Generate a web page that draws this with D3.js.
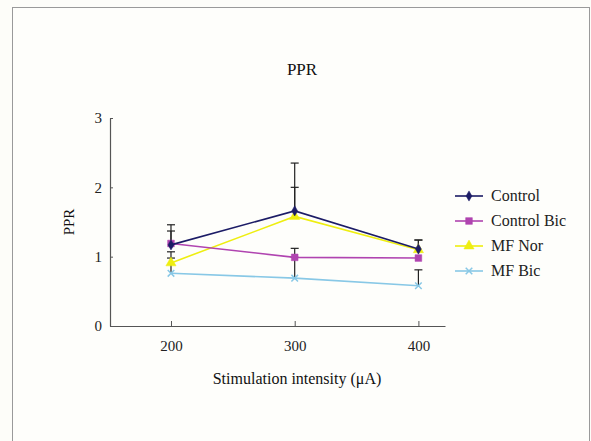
<!DOCTYPE html>
<html>
<head>
<meta charset="utf-8">
<script src="https://cdn.jsdelivr.net/npm/d3@7"></script>
<style>
  html, body { margin: 0; padding: 0; background: #fdfdf9; }
  svg { display: block; }
</style>
</head>
<body>
<div id="chart"></div>
<script>
// data
const intensities = [200, 300, 400];
const seriesNames = ['Control', 'Control Bic', 'MF Nor', 'MF Bic'];
const controlVals = [1.17, 1.66, 1.11];
const controlBicVals = [1.19, 0.99, 0.98];
const mfNorVals = [0.91, 1.58, 1.10];
const mfBicVals = [0.76, 0.69, 0.58];
const controlErr = [0.29, 0.69, 0.13];
const controlBicErr = [0.18, 0.13, 0];
const mfNorErr = [0.16, 0.42, 0.14];
const mfBicErr = [0.22, 0.30, 0.23];
const yTicks = [0, 1, 2, 3];

const width = 591, height = 441;
const margin = { top: 118, right: 146, bottom: 115, left: 110 };

const svg = d3.select('#chart')
  .append('svg')
  .attr('width', width)
  .attr('height', height);

// outer frame
svg.append('rect')
  .attr('x', 12.5).attr('y', 7.5)
  .attr('width', 577).attr('height', 450)
  .attr('fill', '#fefefb')
  .attr('stroke', '#9a9a9a')
  .attr('stroke-width', 1);

const x = d3.scaleLinear()
  .domain([150.7, 421.5])
  .range([margin.left, width - margin.right]);

const y = d3.scaleLinear()
  .domain([0, 3])
  .range([height - margin.bottom, margin.top]);

const font = '"Liberation Serif", "Times New Roman", serif';

// axes
const xAxis = svg.append('g')
  .attr('transform', `translate(0,${y(0)})`)
  .call(d3.axisBottom(x).tickValues(intensities).tickSizeInner(-5).tickSizeOuter(0).tickPadding(14));
const yAxis = svg.append('g')
  .attr('transform', `translate(${x.range()[0]},0)`)
  .call(d3.axisLeft(y).tickValues(yTicks).tickFormat(d3.format('d')).tickSizeInner(-3).tickSizeOuter(0).tickPadding(8));

[xAxis, yAxis].forEach(a => {
  a.select('.domain').attr('stroke', '#555').attr('stroke-width', 1.2);
  a.selectAll('.tick line').attr('stroke', '#555');
  a.selectAll('text')
    .attr('font-family', font)
    .attr('font-size', 15)
    .attr('fill', '#222');
});

// titles
svg.append('text')
  .attr('x', 302).attr('y', 75)
  .attr('text-anchor', 'middle')
  .attr('font-family', font).attr('font-size', 17).attr('fill', '#111')
  .text('PPR');

svg.append('text')
  .attr('transform', `translate(74,${(y(0) + y(3)) / 2}) rotate(-90)`)
  .attr('text-anchor', 'middle')
  .attr('font-family', font).attr('font-size', 15).attr('fill', '#111')
  .text('PPR');

svg.append('text')
  .attr('x', 297).attr('y', 384)
  .attr('text-anchor', 'middle')
  .attr('font-family', font).attr('font-size', 16).attr('fill', '#111')
  .text('Stimulation intensity (\u03bcA)');

const series = [
  { name: seriesNames[0], values: controlVals, err: controlErr, color: '#1c1c66', symbol: d3.symbolDiamond, size: 30 },
  { name: seriesNames[1], values: controlBicVals, err: controlBicErr, color: '#b044b0', symbol: d3.symbolSquare, size: 45 },
  { name: seriesNames[2], values: mfNorVals, err: mfNorErr, color: '#eeee10', symbol: d3.symbolTriangle, size: 45 },
  { name: seriesNames[3], values: mfBicVals, err: mfBicErr, color: '#88c8e6', symbol: d3.symbolX, size: 30 }
];

// error bars (upper only), drawn first
series.forEach(s => {
  s.values.forEach((v, i) => {
    if (!s.err[i]) return;
    const cx = x(intensities[i]);
    const top = y(v + s.err[i]);
    svg.append('line')
      .attr('x1', cx).attr('x2', cx)
      .attr('y1', y(v)).attr('y2', top)
      .attr('stroke', '#222').attr('stroke-width', 1.2);
    svg.append('line')
      .attr('x1', cx - 4).attr('x2', cx + 4)
      .attr('y1', top).attr('y2', top)
      .attr('stroke', '#222').attr('stroke-width', 1.2);
  });
});

const line = d3.line()
  .x((d, i) => x(intensities[i]))
  .y(d => y(d));

// draw back to front so Control ends on top
series.slice().reverse().forEach(s => {
  svg.append('path')
    .datum(s.values)
    .attr('fill', 'none')
    .attr('stroke', s.color)
    .attr('stroke-width', 1.6)
    .attr('d', line);

  svg.selectAll(null)
    .data(s.values)
    .enter()
    .append('path')
    .attr('transform', (d, i) => `translate(${x(intensities[i])},${y(d)})`)
    .attr('d', d3.symbol().type(s.symbol).size(s.size))
    .attr('fill', s.color)
    .attr('stroke', s.color)
    .attr('stroke-width', s.symbol === d3.symbolX ? 1.5 : 0.5);
});

// legend
const legend = svg.append('g')
  .attr('transform', 'translate(455,196)');

series.forEach((s, i) => {
  const row = legend.append('g')
    .attr('transform', `translate(0,${i * 25})`);
  row.append('line')
    .attr('x1', 0).attr('x2', 28)
    .attr('stroke', s.color).attr('stroke-width', 1.6);
  row.append('path')
    .attr('transform', 'translate(14,0)')
    .attr('d', d3.symbol().type(s.symbol).size(s.size))
    .attr('fill', s.color)
    .attr('stroke', s.color)
    .attr('stroke-width', s.symbol === d3.symbolX ? 1.5 : 0.5);
  row.append('text')
    .attr('x', 36).attr('y', 5)
    .attr('font-family', font).attr('font-size', 16).attr('fill', '#222')
    .text(s.name);
});
</script>
</body>
</html>
